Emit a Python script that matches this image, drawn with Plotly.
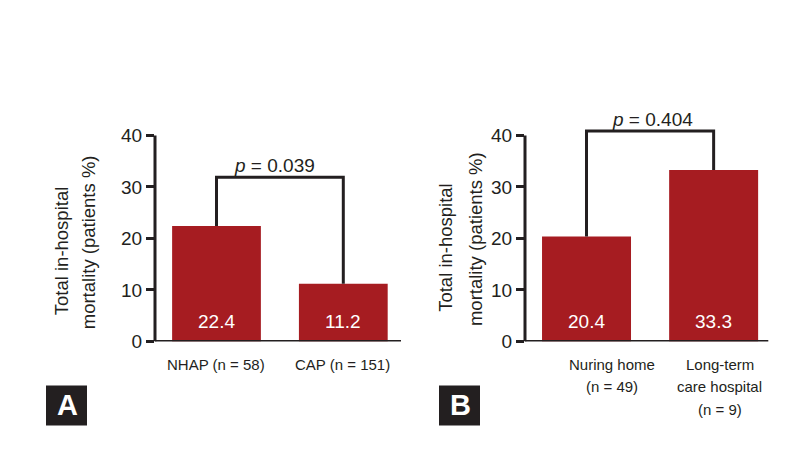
import plotly.graph_objects as go

# ---- data ----
cats_a = ["NHAP (n = 58)", "CAP (n = 151)"]
vals_a = [22.4, 11.2]
cats_b = ["Nuring home<br>(n = 49)", "Long-term<br>care hospital<br>(n = 9)"]
vals_b = [20.4, 33.3]
p_texts = ["<i>p</i> = 0.039", "<i>p</i> = 0.404"]
bracket_tops = [31.9, 40.85]
y_ticks = [0, 10, 20, 30, 40]
y_title_lines = ["Total in-hospital", "mortality (patients %)"]
panel_labels = ["A", "B"]

BAR = "#A61C21"
INK = "#231F20"
FONT = "Liberation Sans, Arial, sans-serif"
W, H = 791, 452
PX = 5.28          # pixels per y unit
Y0 = 350           # pixel row of y = 0


def py(p):
    """pixel row (from top) -> paper fraction"""
    return (H - p) / H


fig = go.Figure()
fig.add_trace(go.Bar(x=[0, 1], y=vals_a, width=0.7, marker_color=BAR,
                     marker_line_width=0, xaxis="x", yaxis="y", hoverinfo="skip"))
fig.add_trace(go.Bar(x=[0, 1], y=vals_b, width=0.7, marker_color=BAR,
                     marker_line_width=0, xaxis="x2", yaxis="y2", hoverinfo="skip"))

yd = [py(Y0), py(Y0 - 44 * PX)]
ax_common = dict(showgrid=False, zeroline=False, showline=False, fixedrange=True)
ytick = dict(range=[0, 44], tickvals=y_ticks, ticks="outside", ticklen=8, tickwidth=3,
             tickcolor=INK, tickfont=dict(size=19, color=INK), domain=yd)
fig.update_layout(
    width=W, height=H, margin=dict(l=0, r=0, t=0, b=0),
    paper_bgcolor="white", plot_bgcolor="white", showlegend=False,
    font=dict(family=FONT, color=INK),
    xaxis=dict(domain=[155 / W, 401 / W], range=[-0.485, 1.455], showticklabels=False,
               ticks="", anchor="y", **ax_common),
    yaxis=dict(anchor="x", **ytick, **ax_common),
    xaxis2=dict(domain=[525 / W, 768.3 / W], range=[-0.484, 1.43], showticklabels=False,
                ticks="", anchor="y2", **ax_common),
    yaxis2=dict(anchor="x2", **ytick, **ax_common),
)

p_centers = [169.5, 123]
title_x = [(61, 88), (446, 475)]
title_y = [(257.5, 248.3), (254, 245)]
cat_shift = [(0, 0), (25, 6)]

panels = [("x", "y", cats_a, vals_a, 0), ("x2", "y2", cats_b, vals_b, 1)]
for xr, yr, cats, vals, i in panels:
    # axis lines
    fig.add_shape(type="line", xref=f"{xr} domain", yref=yr, x0=0, x1=0, y0=0, y1=40,
                  line=dict(color=INK, width=3))
    fig.add_shape(type="line", xref=f"{xr} domain", yref=yr, x0=0, x1=1, y0=0, y1=0,
                  line=dict(color=INK, width=3))
    # significance bracket
    top = bracket_tops[i]
    fig.add_trace(go.Scatter(x=[0, 0, 1, 1], y=[vals[0], top, top, vals[1]], mode="lines",
                             line=dict(color=INK, width=3), xaxis=xr, yaxis=yr,
                             hoverinfo="skip"))
    fig.add_annotation(x=0.5, y=top, xref=xr, yref=yr, text=p_texts[i], showarrow=False,
                       xanchor="center", yanchor="middle",
                       yshift=(Y0 - top * PX) - p_centers[i],
                       xshift=-5 if i == 0 else 2, font=dict(size=19, color=INK))
    # bar value labels
    for j, v in enumerate(vals):
        fig.add_annotation(x=j, y=0, xref=xr, yref=yr, text=f"{v}", showarrow=False,
                           xanchor="center", yanchor="middle", yshift=19.5,
                           font=dict(size=19, color="white"))
    # category labels (one annotation per line)
    for j, c in enumerate(cats):
        for k, line in enumerate(c.split("<br>")):
            fig.add_annotation(x=j, y=0, xref=xr, yref=yr, text=line, showarrow=False,
                               xanchor="center", yanchor="middle",
                               yshift=-(373 - Y0 + 22.5 * k),
                               xshift=cat_shift[i][j] - (1 if i == 0 else 0),
                               font=dict(size=15, color=INK))
    # y title (two lines, start-aligned)
    for k, line in enumerate(y_title_lines):
        fig.add_annotation(xref="paper", yref="paper", x=title_x[i][k] / W,
                           y=py(title_y[i][k]), text=line, textangle=-90, showarrow=False,
                           xanchor="center", yanchor="middle",
                           font=dict(size=18.5, color=INK))
    # panel label box
    x0 = 46 if i == 0 else 439
    fig.add_shape(type="rect", xref="paper", yref="paper", x0=x0 / W, x1=(x0 + 41) / W,
                  y0=py(436), y1=py(395), fillcolor=INK, line_width=0)
    fig.add_annotation(xref="paper", yref="paper", x=(x0 + 21) / W, y=py(415.5),
                       text=f"<b>{panel_labels[i]}</b>", showarrow=False,
                       xanchor="center", yanchor="middle",
                       font=dict(size=29, color="white"))

fig.write_html("out.html", config={"displayModeBar": False},
               post_script="document.body.style.margin='0';document.body.style.overflow='hidden';")
